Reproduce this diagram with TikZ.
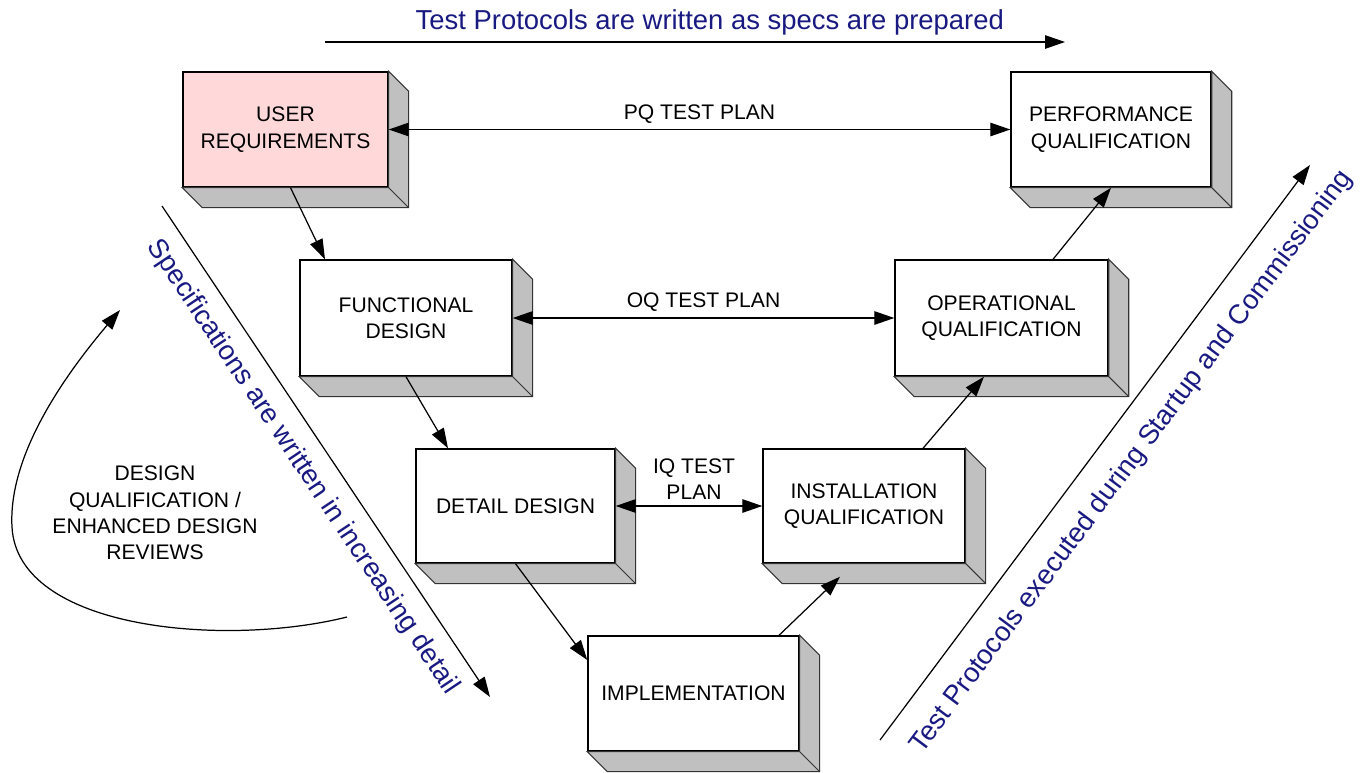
\documentclass[tikz,border=0pt]{standalone}
\usepackage{fontspec}
\setmainfont{Liberation Sans}
\usetikzlibrary{arrows.meta}
\definecolor{navytext}{RGB}{25,25,130}
\definecolor{pinkfill}{RGB}{255,217,217}
\definecolor{sidegray}{RGB}{192,192,192}

\begin{document}
\begin{tikzpicture}[>={Triangle[length=0.4cm,width=0.27cm]}, line width=0.7pt,
  stage/.style={shape=rectangle,draw,fill=white,line width=0.8pt,align=center,inner sep=0pt,font=\fontsize{12}{15}\selectfont},
  note/.style={text=navytext,font=\fontsize{15.6}{18}\selectfont},
  plan/.style={align=center,font=\fontsize{12}{15}\selectfont}]
\useasboundingbox (0,0) rectangle (27.26,-15.44);
\node (ur) at (5.71,-2.59)   [stage,fill=pinkfill,minimum width=4.1cm,minimum height=2.3cm] {USER\\REQUIREMENTS};
\node (pq) at (22.22,-2.59)  [stage,minimum width=4.0cm,minimum height=2.3cm] {PERFORMANCE\\QUALIFICATION};
\node (fd) at (8.12,-6.36)   [stage,minimum width=4.24cm,minimum height=2.32cm] {FUNCTIONAL\\DESIGN};
\node (oq) at (20.03,-6.36)  [stage,minimum width=4.26cm,minimum height=2.32cm] {OPERATIONAL\\QUALIFICATION};
\node (dd) at (10.31,-10.12) [stage,minimum width=3.98cm,minimum height=2.28cm] {DETAIL DESIGN};
\node (iq) at (17.28,-10.12) [stage,minimum width=4.04cm,minimum height=2.28cm] {INSTALLATION\\QUALIFICATION};
\node (im) at (13.87,-13.87) [stage,minimum width=4.22cm,minimum height=2.3cm] {IMPLEMENTATION};
\foreach \n in {ur,pq,fd,oq,dd,iq,im}
  \filldraw [fill=sidegray,draw=black!80,line width=0.6pt] (\n.north east) -- ++(0.4,-0.4)
    -- ([shift={(0.4,-0.4)}]\n.south east) -- ([shift={(0.4,-0.4)}]\n.south west)
    -- (\n.south west) -- (\n.south east) -- cycle (\n.south east) -- ++(0.4,-0.4);
\coordinate (ta) at (6.5,-0.84);
\coordinate (tb) at (21.3,-0.84);
\coordinate (la) at (3.24,-4.12);
\coordinate (lb) at (9.8,-13.94);
\coordinate (ra) at (17.6,-14.8);
\coordinate (rb) at (26.2,-3.3);
\coordinate (ca) at (6.94,-12.34);
\coordinate (cb) at (2.4,-6.2);
\node (dq) at (3.1,-10.26) [plan] {DESIGN\\QUALIFICATION /\\ENHANCED DESIGN\\REVIEWS};
\draw [<->] (ur.east) -- (pq.west) node [plan,midway,above] {PQ TEST PLAN};
\draw [<->] (fd.east) -- (oq.west) node [plan,midway,above] {OQ TEST PLAN};
\draw [<->] (dd.east) -- (iq.west) node [plan,midway,above,xshift=0.1cm] {IQ TEST\\PLAN};
\draw [->] ([xshift=0.1cm]ur.south) -- ([xshift=-1.62cm]fd.north);
\draw [->] (fd.south) -- ([xshift=-1.35cm]dd.north);
\draw [->] (dd.south) -- ([yshift=0.67cm]im.west);
\draw [->] ([xshift=1.71cm]im.north) -- ([xshift=-0.48cm,yshift=-0.26cm]iq.south);
\draw [->] ([xshift=1.18cm]iq.north) -- ([xshift=-0.35cm]oq.south);
\draw [->] ([xshift=1.03cm]oq.north) -- (pq.south);
\draw [->] (ta) -- (tb) node [note,pos=0.52,above] {Test Protocols are written as specs are prepared};
\draw [->] (la) -- (lb) node [note,pos=0.5,sloped,below=5pt] {Specifications are written in increasing detail};
\draw [->] (ra) -- (rb) node [note,pos=0.52,sloped,below=9pt] {Test Protocols executed during Startup and Commissioning};
\draw [->] (ca) .. controls (4.5,-12.95) and (0.35,-12.6) .. (0.24,-10.54)
  .. controls (0.16,-9.1) and (1.3,-7.5) .. (cb);
\end{tikzpicture}
\end{document}
